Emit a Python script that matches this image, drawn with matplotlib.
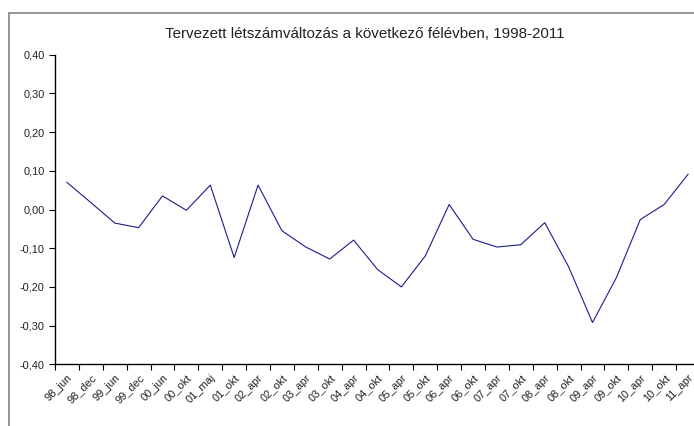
import matplotlib
matplotlib.use("Agg")
import matplotlib.pyplot as plt
from matplotlib.patches import Rectangle
from matplotlib.ticker import FuncFormatter, FixedLocator

categories = ["98_jun", "98_dec", "99_jun", "99_dec", "00_jun", "00_okt", "01_maj",
              "01_okt", "02_apr", "02_okt", "03_apr", "03_okt", "04_apr", "04_okt",
              "05_apr", "05_okt", "06_apr", "06_okt", "07_apr", "07_okt", "08_apr",
              "08_okt", "09_apr", "09_okt", "10_apr", "10_okt", "11_apr"]
values = [0.070, 0.018, -0.035, -0.047, 0.035, -0.002, 0.063, -0.124, 0.063,
          -0.055, -0.097, -0.128, -0.079, -0.155, -0.200, -0.120, 0.013, -0.077,
          -0.097, -0.091, -0.034, -0.148, -0.292, -0.176, -0.026, 0.013, 0.091]
title = "Tervezett létszámváltozás a következő félévben, 1998-2011"
y_ticks = [-0.40, -0.30, -0.20, -0.10, 0.00, 0.10, 0.20, 0.30, 0.40]

plt.rcParams['font.family'] = ['Liberation Sans', 'DejaVu Sans']

W, H = 694, 426
fig = plt.figure(figsize=(W / 100, H / 100), dpi=100)
fig.patch.set_facecolor("white")

# outer chart frame (extends beyond the image on right/bottom)
fig.patches.append(Rectangle((9 / W, 1 - 13 / H - 1.2), 1.2, 1.2,
                             transform=fig.transFigure, fill=False,
                             edgecolor="#8c8c8c", linewidth=1.3))

left, right = 55, 700
top, bottom = 54.7, 364.3
ax = fig.add_axes([left / W, 1 - bottom / H, (right - left) / W, (bottom - top) / H])
ax.set_facecolor("none")

x = list(range(len(categories)))
ax.plot(x, values, color="#1c1c8c", linewidth=0.8)

ax.set_xlim(-0.5, len(categories) - 0.5)
ax.set_ylim(-0.40, 0.40)

ax.xaxis.set_major_locator(FixedLocator([i - 0.5 for i in range(len(categories) + 1)]))
ax.xaxis.set_major_formatter(FuncFormatter(lambda v, p: ""))
ax.xaxis.set_minor_locator(FixedLocator(x))
ax.set_xticklabels(categories, minor=True, rotation=45, ha="right",
                   rotation_mode="anchor", fontsize=7.9, color="#222222")
ax.tick_params(axis="x", which="minor", length=0, pad=6)
ax.tick_params(axis="x", which="major", length=4, width=0.8, direction="out")

ax.set_yticks(y_ticks)
ax.yaxis.set_major_formatter(FuncFormatter(lambda v, p: f"{v:.2f}".replace(".", ",").replace("-0,00", "0,00")))
ax.tick_params(axis="y", length=4, width=0.8, direction="out", labelsize=7.9,
               labelcolor="#222222", pad=3.5)

for s in ["top", "right"]:
    ax.spines[s].set_visible(False)
for s in ["left", "bottom"]:
    ax.spines[s].set_linewidth(1.0)
    ax.spines[s].set_color("black")

fig.text(365 / W, 1 - 34 / H, title, ha="center", va="center", fontsize=10.9,
         color="#222222")

fig.savefig("out.png", dpi=100)
